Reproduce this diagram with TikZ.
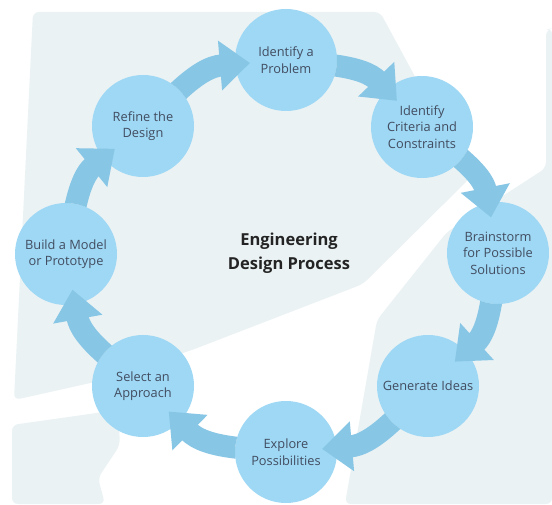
\documentclass[tikz,border=0pt]{standalone}
\usepackage{fontspec}
\setmainfont{Open Sans}
\usetikzlibrary{arrows.meta}
\definecolor{bgpale}{RGB}{234,242,244}
\definecolor{circfill}{RGB}{158,216,244}
\definecolor{arrowc}{RGB}{135,198,229}
\definecolor{labelc}{RGB}{66,76,96}
\definecolor{titlec}{RGB}{36,36,36}
\begin{document}
\begin{tikzpicture}[x=1pt,y=1pt,
  stage/.style={circle, fill=circfill, minimum size=102pt, inner sep=0pt, align=center, text=labelc, font=\fontsize{12.8}{16.5}\selectfont},
  flow/.style={line width=22pt, draw=arrowc, -{Triangle[length=30pt,width=48pt]}, shorten >=-15pt, shorten <=-10pt},
  bgshape/.style={fill=bgpale, rounded corners=6pt}]
\useasboundingbox (0,0) rectangle (552,504);
\fill[white] (0,0) rectangle (552,504);
% background panes
\fill[bgshape] (33,492) -- (380,492) -- (470,326) -- (363,220) -- (192,154) -- (95,122) -- (14,104) -- cycle;
\fill[bgshape] (546,474) -- (552,476) -- (552,0) -- (345,0) -- (377,184) -- (447,272) -- (546,336) -- cycle;
\fill[bgshape] (12,79) -- (118,94) -- (120,59) -- (98,26) -- (105,0) -- (12,0) -- cycle;
% stages
\node[stage] (P) at (286,444) {Identify a\\Problem};
\node[stage] (C) at (422,377) {Identify\\Criteria and\\Constraints};
\node[stage] (B) at (498,251) {Brainstorm\\for Possible\\Solutions};
\node[stage] (G) at (428,118) {Generate Ideas};
\node[stage] (E) at (286,52) {Explore\\Possibilities};
\node[stage] (S) at (143,118) {Select an\\Approach};
\node[stage] (M) at (66,250) {Build a Model\\or Prototype};
\node[stage] (R) at (143,378) {Refine the\\Design};
% title
\node[font=\fontsize{16.5}{24}\selectfont\bfseries, text=titlec, align=center] (T) at (289,251) {Engineering\\Design Process};
% arrows
\foreach \a/\b in {P/C,C/B,B/G,G/E,E/S,S/M,M/R,R/P}{
  \begin{scope}[even odd rule]
    \clip (0,0) rectangle (552,504) (\a.center) circle (51pt);
    \draw[flow] (\a) to[bend left=20] (\b);
  \end{scope}
}
\end{tikzpicture}
\end{document}
